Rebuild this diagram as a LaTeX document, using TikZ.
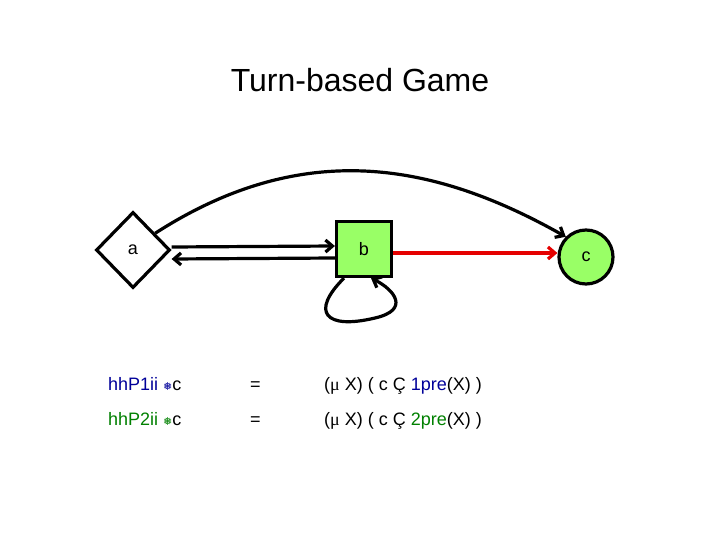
\documentclass[tikz,border=0pt]{standalone}
\usepackage{fontspec}
\setmainfont{Liberation Sans}
\newfontfamily\djv{DejaVu Sans}
\newfontfamily\ser{Liberation Serif}
\usetikzlibrary{shapes.geometric,arrows.meta}
\definecolor{nodegreen}{RGB}{153,255,102}
\definecolor{pblue}{RGB}{0,0,153}
\definecolor{pgreen}{RGB}{0,128,0}
\begin{document}
\begin{tikzpicture}[x=1pt,y=-1pt,
  edge/.style={line width=3.2pt,-{Straight Barb[length=7pt,width=12pt]}},
  txt/.style={anchor=base west,font=\fontsize{18}{21}\selectfont,inner sep=0pt}]
\useasboundingbox (0,0) rectangle (720,540);
\node (title) at (360,80) {\fontsize{32}{38}\selectfont Turn-based Game};
\node[diamond,draw,line width=3.2pt,minimum width=74pt,minimum height=76pt,inner sep=0pt,font=\fontsize{18}{21}\selectfont] (a) at (133,250) {a};
\node[rectangle,draw,line width=3.2pt,fill=nodegreen,minimum size=55pt,font=\fontsize{18}{21}\selectfont] (b) at (364,249) {b};
\node[circle,draw,line width=3.2pt,fill=nodegreen,minimum size=54pt,font=\fontsize{18}{21}\selectfont] (c) at (586,257) {c};
\draw[edge] ([yshift=3pt]a.east) -- ([yshift=3pt]b.west);
\draw[edge] ([yshift=-9pt]b.west) -- ([yshift=-9pt]a.east);
\coordinate (cw) at (b.east -| c.west);
\draw[edge,red!90!black] ([yshift=-4pt]b.east) -- ([yshift=-4pt]cw);
\draw[edge] ([xshift=3pt,yshift=-3pt]a.north east) .. controls (300,140) and (430,160) .. (c.north west);
\draw[edge] ([xshift=-20pt]b.south) .. controls (310,312) and (325,330) .. (375,318) .. controls (410,310) and (395,290) .. ([xshift=7pt]b.south);
\node[txt,text=pblue] (p1) at (108,390) {hhP1ii {\djv\fontsize{11}{12}\selectfont ❅}\textcolor{black}{c}};
\node[txt] (e1) at (250,390) {=};
\node[txt] (f1) at (324,390) {({\ser μ} X) ( c Ç \textcolor{pblue}{1pre}(X) )};
\node[txt,text=pgreen] (p2) at (108,425) {hhP2ii {\djv\fontsize{11}{12}\selectfont ❅}\textcolor{black}{c}};
\node[txt] (e2) at (250,425) {=};
\node[txt] (f2) at (324,425) {({\ser μ} X) ( c Ç \textcolor{pgreen}{2pre}(X) )};
\end{tikzpicture}
\end{document}
